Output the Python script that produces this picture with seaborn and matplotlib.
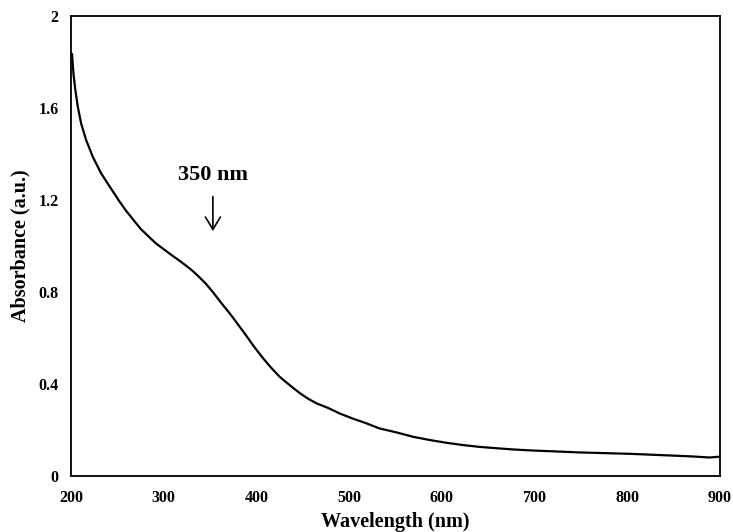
import matplotlib
matplotlib.use("Agg")
import matplotlib.pyplot as plt
import seaborn as sns
import pandas as pd

wavelength = [200, 201, 202.5, 204.6, 207.2, 210.8, 216.2, 223.4, 232.4, 243, 252, 259, 266, 275, 284,
              292, 301, 308, 316, 323, 330, 337, 345, 353, 361, 372, 382, 390, 397, 406, 415,
              425, 436, 447, 456, 465, 477, 490, 504, 519, 533, 545, 555, 569, 587, 605, 623,
              641, 660, 677, 695, 713, 731, 749, 767, 785, 803, 821, 839, 857, 873, 889, 898, 900]
absorbance = [1.82, 1.835, 1.75, 1.678, 1.606, 1.533, 1.461, 1.388, 1.316, 1.25, 1.195, 1.155,
              1.12, 1.075, 1.04, 1.01, 0.983, 0.962, 0.939, 0.918, 0.896, 0.87, 0.838, 0.80, 0.758,
              0.703, 0.649, 0.605, 0.565, 0.518, 0.475, 0.432, 0.395, 0.36, 0.336, 0.316, 0.297,
              0.272, 0.25, 0.229, 0.207, 0.196, 0.186, 0.171, 0.157, 0.145, 0.135, 0.127, 0.121,
              0.116, 0.112, 0.109, 0.106, 0.103, 0.101, 0.099, 0.097, 0.094, 0.091, 0.088, 0.085,
              0.081, 0.084, 0.083]

x_ticks = [200, 300, 400, 500, 600, 700, 800, 900]
y_ticks = [0, 0.4, 0.8, 1.2, 1.6, 2]
y_tick_labels = ["0", "0.4", "0.8", "1.2", "1.6", "2"]

sns.set_theme(style="white")
plt.rcParams["font.family"] = ["Liberation Serif", "DejaVu Serif"]
plt.rcParams["font.weight"] = "bold"
plt.rcParams["text.color"] = "black"
plt.rcParams["axes.labelcolor"] = "black"
plt.rcParams["xtick.color"] = "black"
plt.rcParams["ytick.color"] = "black"

fig = plt.figure(figsize=(7.33, 5.32), dpi=100)
ax = fig.add_axes([0.097, 0.105, 0.885, 0.865])

df = pd.DataFrame({"Wavelength": wavelength, "Absorbance": absorbance})
sns.lineplot(data=df, x="Wavelength", y="Absorbance", ax=ax, color="black", linewidth=1.6)

ax.set_xlim(200, 900)
ax.set_ylim(0, 2)
ax.set_xticks(x_ticks)
ax.set_xticklabels([str(v) for v in x_ticks], fontsize=11.5, fontweight="bold")
ax.set_yticks(y_ticks)
ax.set_yticklabels(y_tick_labels, fontsize=11.5, fontweight="bold")
ax.tick_params(axis="x", length=0, pad=10)
ax.tick_params(axis="y", length=0, pad=9)
ax.set_xlabel("Wavelength (nm)", fontsize=14.5, fontweight="bold", labelpad=4)
ax.set_ylabel("Absorbance (a.u.)", fontsize=14.5, fontweight="bold", labelpad=6)
for s in ax.spines.values():
    s.set_color("black")
    s.set_linewidth(1.3)
ax.grid(False)

ax.annotate("", xy=(353, 1.065), xytext=(353, 1.215),
            arrowprops=dict(arrowstyle="->,head_length=0.75,head_width=0.45",
                            color="black", lw=1.2, shrinkA=0, shrinkB=0))
ax.text(353, 1.31, "350 nm", ha="center", va="center", fontsize=16, fontweight="bold")

fig.savefig("out.png", dpi=100)
